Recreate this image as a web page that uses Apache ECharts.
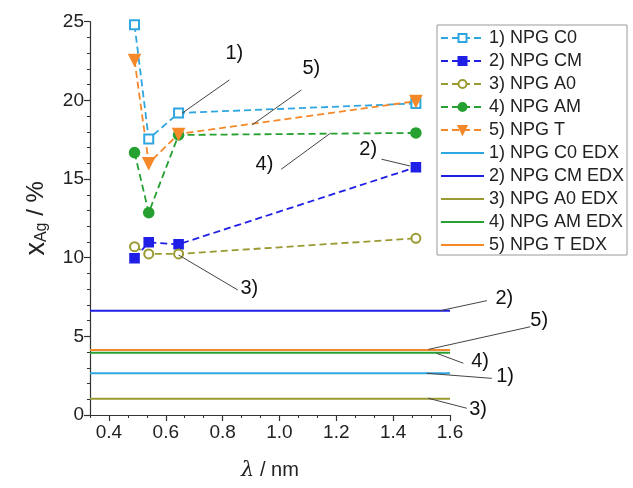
<!DOCTYPE html>
<html><head><meta charset="utf-8">
<script src="https://cdn.jsdelivr.net/npm/echarts@6/dist/echarts.min.js"></script>
<style>html,body{margin:0;padding:0;background:#fff}#c{width:633px;height:488px}</style>
</head><body><div id="c"></div>
<script>
// ---- data ----
const lambdaNm = [0.49, 0.54, 0.645, 1.48];
const npgC0 = [24.8, 17.55, 19.2, 19.8];
const npgCM = [9.96, 10.98, 10.85, 15.75];
const npgA0 = [10.7, 10.24, 10.24, 11.23];
const npgAM = [16.68, 12.86, 17.8, 17.93];
const npgT  = [22.57, 16.0, 17.86, 19.95];
// EDX reference values (C0, CM, A0, AM, T)
const edxValues = [2.65, 6.63, 1.04, 3.96, 4.13];
const xRange = [1/3, 1.6];
const xMajorTicks = [0.4, 0.6, 0.8, 1.0, 1.2, 1.4, 1.6];
const seriesNames = ['1) NPG C0','2) NPG CM','3) NPG A0','4) NPG AM','5) NPG T'];
const edxNames = ['1) NPG C0 EDX','2) NPG CM EDX','3) NPG A0 EDX','4) NPG AM EDX','5) NPG T EDX'];
// annotation leader lines (data coords) and labels
const annotLines = [
  [[0.824,21.3],[0.657,19.18]],
  [[1.077,20.66],[0.904,18.44]],
  [[1.006,15.62],[1.179,17.91]],
  [[1.359,16.26],[1.459,15.83]],
  [[0.645,10.17],[0.853,7.95]],
  [[1.73,7.27],[1.565,6.63]],
  [[1.883,5.61],[1.524,4.17]],
  [[1.647,3.29],[1.553,3.92]],
  [[1.747,2.33],[1.518,2.65]],
  [[1.659,0.43],[1.524,1.06]]
];
const annotLabels = [
  [0.841,23.0,'1)'],[1.112,22.04,'5)'],[0.947,15.9,'4)'],[1.312,16.85,'2)'],[0.894,8.07,'3)'],
  [1.791,7.42,'2)'],[1.914,5.98,'5)'],[1.706,3.43,'4)'],[1.794,2.48,'1)'],[1.699,0.32,'3)']
];

const colors = ['#2ea6df', '#1f1fe6', '#9a9a32', '#26a131', '#f5892a'];
const symbols = [
  {symbol:'emptyRect', size:9, rotate:0},
  {symbol:'rect', size:9, rotate:0},
  {symbol:'emptyCircle', size:9, rotate:0},
  {symbol:'circle', size:10, rotate:0},
  {symbol:'triangle', size:11, rotate:180}
];
const dataSets = [npgC0, npgCM, npgA0, npgAM, npgT];
const FONT = 'Liberation Sans, Arial, sans-serif';

const series = [];
dataSets.forEach((arr, k) => {
  series.push({
    name: seriesNames[k], type: 'line',
    data: lambdaNm.map((x, i) => [x, arr[i]]),
    symbol: symbols[k].symbol, symbolSize: symbols[k].size, symbolRotate: symbols[k].rotate,
    showAllSymbol: true,
    lineStyle: {color: colors[k], width: 1.8, type: [7, 4]},
    itemStyle: {color: colors[k], borderColor: colors[k], borderWidth: 1.6},
    z: 5
  });
});
edxValues.forEach((v, k) => {
  series.push({
    name: edxNames[k], type: 'line',
    data: [[xRange[0], v], [xRange[1], v]],
    symbol: 'none',
    lineStyle: {color: colors[k], width: 2, type: 'solid'},
    itemStyle: {color: colors[k]},
    z: 3
  });
});

const legendData = seriesNames.map(n => ({name: n}))
  .concat(edxNames.map(n => ({name: n, itemStyle: {opacity: 0}})));

const chart = echarts.init(document.getElementById('c'), null, {renderer: 'canvas'});
const toPx = p => chart.convertToPixel({xAxisIndex: 0, yAxisIndex: 0}, p);
chart.setOption({
  animation: false,
  backgroundColor: '#fff',
  textStyle: {fontFamily: FONT},
  grid: {left: 90, right: 183, top: 21.7, bottom: 73, containLabel: false},
  legend: {
    data: legendData,
    orient: 'vertical', left: 437, top: 25,
    itemWidth: 43, itemHeight: 10, itemGap: 5,
    borderColor: '#999', borderWidth: 1, padding: [4, 3, 1, 3],
    textStyle: {fontSize: 18, color: '#222', fontFamily: FONT},
    selectedMode: false
  },
  xAxis: [{
    type: 'value', min: xRange[0], max: xRange[1],
    name: '{l|λ}{n| / nm}', nameLocation: 'middle', nameGap: 45,
    nameTextStyle: {rich: {l: {fontSize: 21, fontStyle: 'italic', fontFamily: 'DejaVu Serif', color: '#222'},
                           n: {fontSize: 20, color: '#222', fontFamily: FONT}}},
    axisLine: {show: true, onZero: false, lineStyle: {color: '#333', width: 1.2}},
    axisTick: {show: true, customValues: xMajorTicks, length: 6, lineStyle: {color: '#333', width: 1.2}},
    axisLabel: {customValues: xMajorTicks, formatter: v => v.toFixed(1), fontSize: 19, color: '#222', margin: 8, fontFamily: FONT},
    splitLine: {show: false}
  }, {
    type: 'value', min: xRange[0], max: xRange[1], interval: 1/15, position: 'bottom',
    axisLine: {show: false}, axisLabel: {show: false}, splitLine: {show: false},
    axisTick: {show: true, length: 3, lineStyle: {color: '#333', width: 1}}
  }],
  yAxis: {
    type: 'value', min: 0, max: 25, interval: 5,
    name: '{x|x}{s|Ag}{n| / %}', nameLocation: 'middle', nameGap: 40, nameRotate: 90,
    nameTextStyle: {rich: {x: {fontSize: 27, color: '#222', fontFamily: FONT},
                           s: {fontSize: 16, color: '#222', fontFamily: FONT, verticalAlign: 'bottom', padding: [10,0,0,0]},
                           n: {fontSize: 24, color: '#222', fontFamily: FONT}}},
    axisLine: {show: true, lineStyle: {color: '#333', width: 1.2}},
    axisTick: {show: true, length: 6, lineStyle: {color: '#333', width: 1.2}},
    minorTick: {show: true, splitNumber: 5, length: 3, lineStyle: {color: '#333', width: 1}},
    axisLabel: {fontSize: 19, color: '#222', margin: 6, fontFamily: FONT},
    splitLine: {show: false}, minorSplitLine: {show: false}
  },
  series: series
});

// annotations positioned from data coordinates through the axes
const graphics = [];
annotLines.forEach(s => {
  const a = toPx(s[0]), b = toPx(s[1]);
  graphics.push({type: 'line', silent: true, z: 20,
    shape: {x1: a[0], y1: a[1], x2: b[0], y2: b[1]},
    style: {stroke: '#444', lineWidth: 1}});
});
annotLabels.forEach(l => {
  const p = toPx([l[0], l[1]]);
  graphics.push({type: 'text', silent: true, z: 21, x: p[0], y: p[1],
    style: {text: l[2], fontSize: 20, fill: '#111', fontFamily: FONT, align: 'center', verticalAlign: 'middle'}});
});
chart.setOption({graphic: graphics});
</script></body></html>
